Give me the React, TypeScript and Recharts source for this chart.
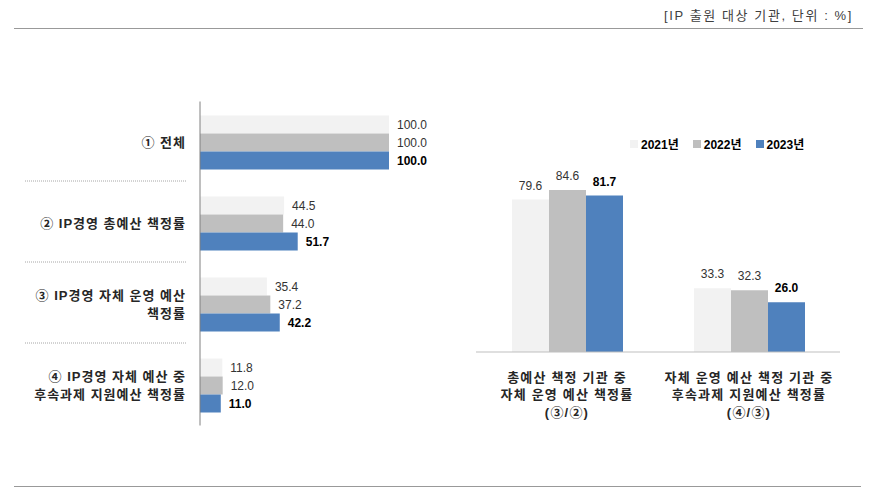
import { BarChart, Bar, XAxis, YAxis, LabelList, Legend } from 'recharts';

const SERIES = ['2021년', '2022년', '2023년'];
const COLORS = ['#F2F2F2', '#BFBFBF', '#4F81BD'];

const leftCategories = [
  ['① 전체'],
  ['② IP경영 총예산 책정률'],
  ['③ IP경영 자체 운영 예산', '책정률'],
  ['④ IP경영 자체 예산 중', '후속과제 지원예산 책정률'],
];
const left2021 = [100.0, 44.5, 35.4, 11.8];
const left2022 = [100.0, 44.0, 37.2, 12.0];
const left2023 = [100.0, 51.7, 42.2, 11.0];

const rightCategories = [
  ['총예산 책정 기관 중', '자체 운영 예산 책정률', '(③/②)'],
  ['자체 운영 예산 책정 기관 중', '후속과제 지원예산 책정률', '(④/③)'],
];
const right2021 = [79.6, 33.3];
const right2022 = [84.6, 32.3];
const right2023 = [81.7, 26.0];

const FONT = "'Liberation Sans', 'Noto Sans CJK KR', sans-serif";

const leftData = leftCategories.map((lines, i) => ({
  name: lines.join('\n'),
  y2021: left2021[i],
  y2022: left2022[i],
  y2023: left2023[i],
}));

const rightData = rightCategories.map((lines, i) => ({
  name: lines.join('\n'),
  y2021: right2021[i],
  y2022: right2022[i],
  y2023: right2023[i],
}));

const keys = ['y2021', 'y2022', 'y2023'];

function LeftTick(props: any) {
  const { y, payload, index } = props;
  const lines: string[] = String(payload.value).split('\n');
  const lh = 18;
  const start = y - ((lines.length - 1) * lh) / 2;
  const band = 81;
  return (
    <g>
      {lines.map((l, i) => (
        <text key={i} x={186} y={start + i * lh} dy="0.35em" textAnchor="end" letterSpacing={1}
          fontSize={13} fontWeight="bold" fill="#262626" fontFamily={FONT}>{l}</text>
      ))}
      {index < leftCategories.length - 1 && (
        <line x1={25} x2={186} y1={y + band / 2 - 1.5} y2={y + band / 2 - 1.5}
          stroke="#A6A6A6" strokeDasharray="1 1" />
      )}
    </g>
  );
}

function RightTick(props: any) {
  const { x, y, payload } = props;
  const lines: string[] = String(payload.value).split('\n');
  return (
    <g>
      {lines.map((l, i) => (
        <text key={i} x={x} y={y + 17 + i * 17.5} dy="0.35em" textAnchor="middle" letterSpacing={1.2}
          fontSize={13} fontWeight="bold" fill="#262626" fontFamily={FONT}>{l}</text>
      ))}
    </g>
  );
}

function makeLabel(bold: boolean, pos: 'right' | 'top') {
  return (props: any) => {
    const { x, y, width, height, value } = props;
    const tx = pos === 'right' ? x + width + 8 : x + width / 2;
    const ty = pos === 'right' ? y + height / 2 : y - 14;
    return (
      <text x={tx} y={ty} dy="0.35em" textAnchor={pos === 'right' ? 'start' : 'middle'}
        fontSize={12} fontWeight={bold ? 'bold' : 'normal'} fill={bold ? '#000' : '#333'}
        fontFamily={FONT}>{Number(value).toFixed(1)}</text>
    );
  };
}

function LegendRow() {
  return (
    <div style={{ display: 'flex', alignItems: 'center', fontFamily: FONT, fontSize: 12, fontWeight: 'bold', color: '#000', whiteSpace: 'nowrap' }}>
      {SERIES.map((s, i) => (
        <span key={s} style={{ display: 'flex', alignItems: 'center', marginRight: 14 }}>
          <span style={{ width: 8, height: 8, background: COLORS[i], marginRight: 3, display: 'inline-block' }} />
          {s}
        </span>
      ))}
    </div>
  );
}

export default function App() {
  return (
    <div style={{ position: 'absolute', left: 0, top: 0, width: 872, height: 495, background: '#fff', fontFamily: FONT }}>
      <div style={{ position: 'absolute', right: 19, top: 5, fontSize: 13, color: '#404040', letterSpacing: 1.6, whiteSpace: 'nowrap' }}>
        [IP 출원 대상 기관, 단위 : %]
      </div>
      <div style={{ position: 'absolute', left: 14, top: 28, width: 849, height: 0, borderTop: '1.5px solid #999' }} />
      <div style={{ position: 'absolute', left: 14, top: 486, width: 847, height: 0, borderTop: '1.5px solid #999' }} />

      <div style={{ position: 'absolute', left: 0, top: 0 }}>
        <BarChart width={440} height={495} data={leftData} layout="vertical"
          margin={{ top: 101.5, right: 51, bottom: 69.5, left: 0 }} barGap={0}>
          <XAxis type="number" domain={[0, 100]} hide />
          <YAxis type="category" dataKey="name" width={200} tickLine={false}
            axisLine={{ stroke: '#808080' }} tick={<LeftTick />} interval={0} />
          {keys.map((k, i) => (
            <Bar key={k} dataKey={k} name={SERIES[i]} fill={COLORS[i]} barSize={18} isAnimationActive={false}>
              <LabelList dataKey={k} content={makeLabel(i === 2, 'right')} />
            </Bar>
          ))}
        </BarChart>
      </div>

      <div style={{ position: 'absolute', left: 440, top: 0 }}>
        <BarChart width={432} height={495} data={rightData}
          margin={{ top: 160.5, right: 32, bottom: 83, left: 36 }} barGap={0}>
          <XAxis type="category" dataKey="name" height={60} tickLine={false}
            axisLine={{ stroke: '#BFBFBF' }} tick={<RightTick />} interval={0} />
          <YAxis type="number" domain={[0, 100]} hide />
          <Legend layout="vertical" verticalAlign="middle" align="center"
            wrapperStyle={{ position: 'absolute', top: 135, left: 190, width: 'auto' }}
            content={() => <LegendRow />} />
          {keys.map((k, i) => (
            <Bar key={k} dataKey={k} name={SERIES[i]} fill={COLORS[i]} barSize={37} isAnimationActive={false}>
              <LabelList dataKey={k} content={makeLabel(i === 2, 'top')} />
            </Bar>
          ))}
        </BarChart>
      </div>
    </div>
  );
}
